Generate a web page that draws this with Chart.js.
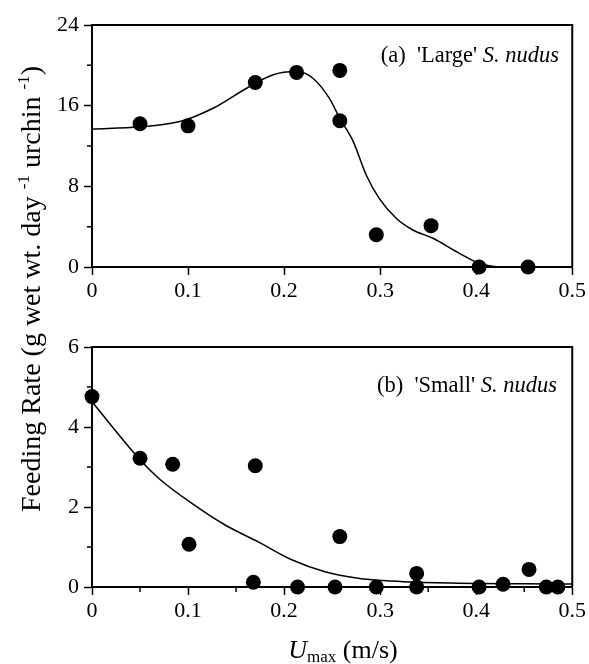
<!DOCTYPE html>
<html lang="en">
<head>
    <meta charset="UTF-8">
    <title>Feeding rate vs Umax</title>
    <script src="https://cdn.jsdelivr.net/npm/chart.js"></script>
    <style>
        body {
            margin: 0;
            background: white;
        }
        .page {
            position: relative;
            width: 589px;
            height: 664px;
            font-family: "Liberation Serif", "Times New Roman", serif;
            color: #000;
        }
        canvas {
            position: absolute;
            left: 0;
        }
        #topChart { top: 0; }
        #bottomChart { top: 310px; }
        .panel-label {
            position: absolute;
            font-size: 22.5px;
            line-height: 22px;
            white-space: nowrap;
            text-align: right;
        }
        .y-title {
            position: absolute;
            left: -229.5px;
            top: 275px;
            width: 520px;
            height: 28px;
            font-size: 28px;
            line-height: 28px;
            text-align: center;
            white-space: nowrap;
            transform: rotate(-90deg);
        }
        .y-title sup {
            font-size: 17px;
            line-height: 0;
            vertical-align: 11px;
        }
        .x-title {
            position: absolute;
            left: 193px;
            width: 300px;
            top: 637px;
            font-size: 26px;
            line-height: 26px;
            text-align: center;
            white-space: nowrap;
        }
        .x-title sub {
            font-size: 17px;
            line-height: 0;
            vertical-align: -4px;
        }
    </style>
</head>
<body>
<div class="page">
    <canvas id="topChart" width="589" height="310"></canvas>
    <canvas id="bottomChart" width="589" height="354"></canvas>

    <div class="panel-label" style="right: 30px; top: 44px;">(a)&nbsp; 'Large' <i>S. nudus</i></div>
    <div class="panel-label" style="right: 32px; top: 374px;">(b)&nbsp; 'Small' <i>S. nudus</i></div>

    <div class="y-title">Feeding Rate (g wet wt. day <sup>-1</sup> urchin <sup>-1</sup>)</div>
    <div class="x-title"><i>U</i><sub>max</sub> (m/s)</div>
</div>

<script>
    // (a) large urchins: measured feeding rates
    const largeU = [0.05, 0.10, 0.17, 0.213, 0.258, 0.258, 0.296, 0.353, 0.403, 0.454];
    const largeRate = [14.2, 14.0, 18.3, 19.3, 19.5, 14.5, 3.2, 4.1, 0, 0];

    // (a) fitted curve
    const largeFitU = [0, 0.05, 0.0915, 0.126, 0.161, 0.188, 0.213, 0.23, 0.247, 0.258, 0.272,
                       0.2855, 0.299, 0.3167, 0.334, 0.355, 0.3825, 0.403, 0.427, 0.455];
    const largeFitRate = [13.66, 13.9, 14.42, 15.74, 17.73, 19.05, 19.38, 18.72, 16.74, 14.75, 12.43,
                          9.13, 6.81, 4.83, 3.67, 2.85, 1.36, 0.37, 0, 0];

    // (b) small urchins: measured feeding rates
    const smallU = [0, 0.05, 0.084, 0.170, 0.101, 0.168, 0.214, 0.253, 0.296, 0.258,
                    0.338, 0.338, 0.403, 0.428, 0.455, 0.473, 0.485];
    const smallRate = [4.76, 3.22, 3.07, 3.03, 1.07, 0.12, 0, 0, 0, 1.26,
                       0.34, 0, 0, 0.07, 0.44, 0, 0];

    // (b) fitted curve
    const smallFitU = [0, 0.05, 0.0693, 0.104, 0.1386, 0.173, 0.208, 0.2426, 0.277, 0.312, 0.34, 0.40, 0.45, 0.5];
    const smallFitRate = [4.63, 3.18, 2.72, 2.09, 1.55, 1.13, 0.68, 0.38, 0.22, 0.15, 0.12, 0.09, 0.08, 0.075];

    // axis ticks
    const uTicks = [0, 0.1, 0.2, 0.3, 0.4, 0.5];
    const largeTicks = [0, 8, 16, 24];
    const largeMinor = [4, 12, 20];
    const smallTicks = [0, 2, 4, 6];
    const smallMinor = [1, 3, 5];
    const uMinorSmall = [0.05, 0.15, 0.25, 0.35, 0.45];

    const tickFont = { family: "'Liberation Serif', 'Times New Roman', serif", size: 22 };

    function toPoints(xs, ys) {
        return xs.map((x, i) => ({ x: x, y: ys[i] }));
    }

    // box around the plot area plus the short minor tick marks
    const framePlugin = {
        id: 'frame',
        beforeDatasetsDraw(chart, args, opts) {
            const ctx = chart.ctx;
            const a = chart.chartArea;
            const xs = chart.scales.x;
            const ys = chart.scales.y;
            ctx.save();
            ctx.strokeStyle = '#000';
            ctx.lineWidth = 1.5;
            ctx.beginPath();
            (opts.yMinor || []).forEach(v => {
                const py = ys.getPixelForValue(v);
                ctx.moveTo(a.left - 5, py);
                ctx.lineTo(a.left, py);
            });
            (opts.xMinor || []).forEach(v => {
                const px = xs.getPixelForValue(v);
                ctx.moveTo(px, a.bottom);
                ctx.lineTo(px, a.bottom + 5);
            });
            ctx.stroke();
            ctx.lineWidth = 2;
            ctx.beginPath();
            ctx.moveTo(a.left, a.top);
            ctx.lineTo(a.right, a.top);
            ctx.lineTo(a.right, a.bottom);
            ctx.stroke();
            ctx.restore();
        }
    };

    function makeChart(id, pts, fit, yMax, yTicks, yMinor, xMinor, topPad, xAxisHeight) {
        return new Chart(document.getElementById(id), {
            type: 'scatter',
            data: {
                datasets: [
                    {
                        data: fit,
                        showLine: true,
                        borderColor: '#000',
                        borderWidth: 1.5,
                        pointRadius: 0,
                        cubicInterpolationMode: 'monotone',
                        clip: false
                    },
                    {
                        data: pts,
                        backgroundColor: '#000',
                        borderWidth: 0,
                        pointRadius: 7.5,
                        clip: false
                    }
                ]
            },
            options: {
                responsive: false,
                animation: false,
                events: [],
                layout: { padding: { top: topPad, right: 16, left: 0, bottom: 0 } },
                plugins: {
                    legend: { display: false },
                    tooltip: { enabled: false },
                    frame: { yMinor: yMinor, xMinor: xMinor }
                },
                scales: {
                    x: {
                        type: 'linear',
                        min: 0,
                        max: 0.5,
                        afterBuildTicks: s => { s.ticks = uTicks.map(v => ({ value: v })); },
                        afterFit: s => { s.height = xAxisHeight; },
                        ticks: {
                            font: tickFont,
                            color: '#000',
                            padding: 3,
                            maxRotation: 0,
                            callback: v => String(Math.round(v * 10) / 10)
                        },
                        grid: { drawOnChartArea: false, tickLength: 8, tickWidth: 1.5, tickColor: '#000' },
                        border: { color: '#000', width: 2 }
                    },
                    y: {
                        min: 0,
                        max: yMax,
                        afterBuildTicks: s => { s.ticks = yTicks.map(v => ({ value: v })); },
                        afterFit: s => { s.width = 92; },
                        ticks: {
                            font: tickFont,
                            color: '#000',
                            padding: 5
                        },
                        grid: { drawOnChartArea: false, tickLength: 8, tickWidth: 1.5, tickColor: '#000' },
                        border: { color: '#000', width: 2 }
                    }
                }
            },
            plugins: [framePlugin]
        });
    }

    makeChart('topChart', toPoints(largeU, largeRate), toPoints(largeFitU, largeFitRate),
              24, largeTicks, largeMinor, [], 25, 43);
    makeChart('bottomChart', toPoints(smallU, smallRate), toPoints(smallFitU, smallFitRate),
              6, smallTicks, smallMinor, uMinorSmall, 37, 77);
</script>
</body>
</html>
